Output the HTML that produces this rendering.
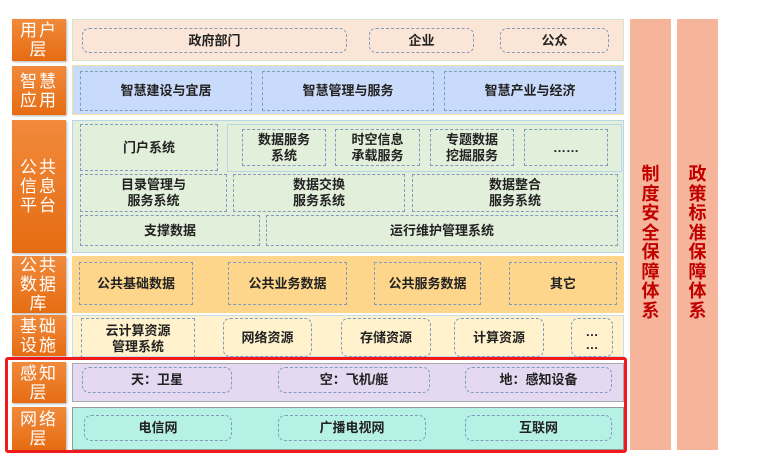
<!DOCTYPE html>
<html><head><meta charset="utf-8"><style>
body{margin:0;width:777px;height:469px;background:#fff;position:relative;overflow:hidden;font-family:"Liberation Sans","Noto Sans CJK SC",sans-serif;}
div{position:absolute;box-sizing:border-box;}
.lab{left:12px;width:54px;background:linear-gradient(#f08a3c,#e66c12);color:#fff;font-size:17px;line-height:19px;text-align:center;display:flex;align-items:center;justify-content:center;letter-spacing:2px;box-shadow:1px 1px 2px rgba(0,0,0,.3);}
.pan{left:72px;width:552px;}
.b{border:1.5px dashed #7f9cc0;display:flex;align-items:center;justify-content:center;text-align:center;font-size:13px;font-weight:bold;color:#222;line-height:16px;}
.r{border-radius:7px;}
.col{top:19px;height:431px;width:41px;background:#f6b59a;color:#c00000;font-size:18px;font-weight:bold;text-align:center;line-height:19.5px;padding-top:146px;}
</style></head><body>
<div class="lab" style="top:19px;height:42px">用户<br>层</div>
<div class="lab" style="top:66px;height:49px">智慧<br>应用</div>
<div class="lab" style="top:120px;height:133px">公共<br>信息<br>平台</div>
<div class="lab" style="top:256px;height:57px">公共<br>数据<br>库</div>
<div class="lab" style="top:315px;height:41px">基础<br>设施</div>
<div class="lab" style="top:362px;height:41px">感知<br>层</div>
<div class="lab" style="top:407px;height:43px">网络<br>层</div>
<div class="pan" style="top:19px;height:42px;background:#fbe5d6;border:1px solid #d6e6c8"></div>
<div class="pan" style="top:65px;height:50px;background:#c9dbfb;border:1px solid #f3dfa0"></div>
<div class="pan" style="top:120px;height:133px;background:#e2efda;border:1px solid #b9d6e8"></div>
<div class="pan" style="top:256px;height:57px;background:#fdd68b"></div>
<div class="pan" style="top:315px;height:42px;background:#fff2cc;border:1px solid #c8dce8"></div>
<div class="pan" style="top:363px;height:39px;background:#e4d9f1;border:1px solid #aaa"></div>
<div class="pan" style="top:407px;height:43px;background:#b6f1e5;border:1px solid #999"></div>
<div class="b r" style="left:82px;top:28px;width:265px;height:25px">政府部门</div>
<div class="b r" style="left:369px;top:28px;width:105px;height:25px">企业</div>
<div class="b r" style="left:500px;top:28px;width:109px;height:25px">公众</div>
<div class="b" style="left:80px;top:71px;width:172px;height:40px">智慧建设与宜居</div>
<div class="b" style="left:262px;top:71px;width:172px;height:40px">智慧管理与服务</div>
<div class="b" style="left:444px;top:71px;width:172px;height:40px">智慧产业与经济</div>
<div class="b" style="left:80px;top:124px;width:138px;height:47px">门户系统</div>
<div style="left:227px;top:124px;width:395px;height:48px;border:1px solid #b9d6e8"></div>
<div class="b" style="left:242px;top:129px;width:84px;height:37px">数据服务<br>系统</div>
<div class="b" style="left:335px;top:129px;width:85px;height:37px">时空信息<br>承载服务</div>
<div class="b" style="left:430px;top:129px;width:84px;height:37px">专题数据<br>挖掘服务</div>
<div class="b" style="left:524px;top:129px;width:84px;height:37px">……</div>
<div class="b" style="left:80px;top:174px;width:147px;height:38px">目录管理与<br>服务系统</div>
<div class="b" style="left:233px;top:174px;width:172px;height:38px">数据交换<br>服务系统</div>
<div class="b" style="left:412px;top:174px;width:206px;height:38px">数据整合<br>服务系统</div>
<div class="b" style="left:80px;top:215px;width:180px;height:31px">支撑数据</div>
<div class="b" style="left:266px;top:215px;width:352px;height:31px">运行维护管理系统</div>
<div class="b" style="left:79px;top:262px;width:114px;height:43px">公共基础数据</div>
<div class="b" style="left:228px;top:262px;width:119px;height:43px">公共业务数据</div>
<div class="b" style="left:374px;top:262px;width:107px;height:43px">公共服务数据</div>
<div class="b" style="left:509px;top:262px;width:108px;height:43px">其它</div>
<div class="b" style="left:81px;top:318px;width:114px;height:40px;border-bottom:none">云计算资源<br>管理系统</div>
<div class="b r" style="left:223px;top:318px;width:89px;height:39px">网络资源</div>
<div class="b r" style="left:341px;top:318px;width:90px;height:39px">存储资源</div>
<div class="b r" style="left:454px;top:318px;width:90px;height:39px">计算资源</div>
<div class="b r" style="left:571px;top:318px;width:42px;height:39px;line-height:13px">…<br>…</div>
<div class="b r" style="left:82px;top:367px;width:150px;height:26px">天：卫星</div>
<div class="b r" style="left:278px;top:367px;width:152px;height:26px">空：飞机/艇</div>
<div class="b r" style="left:465px;top:367px;width:147px;height:26px">地：感知设备</div>
<div class="b r" style="left:84px;top:415px;width:148px;height:26px">电信网</div>
<div class="b r" style="left:278px;top:415px;width:148px;height:26px">广播电视网</div>
<div class="b r" style="left:465px;top:415px;width:147px;height:26px">互联网</div>
<div style="left:5px;top:357px;width:622px;height:96px;border:3px solid #f01a1a;border-radius:3px"></div>
<div class="col" style="left:630px">制<br>度<br>安<br>全<br>保<br>障<br>体<br>系</div>
<div class="col" style="left:677px">政<br>策<br>标<br>准<br>保<br>障<br>体<br>系</div>
</body></html>
